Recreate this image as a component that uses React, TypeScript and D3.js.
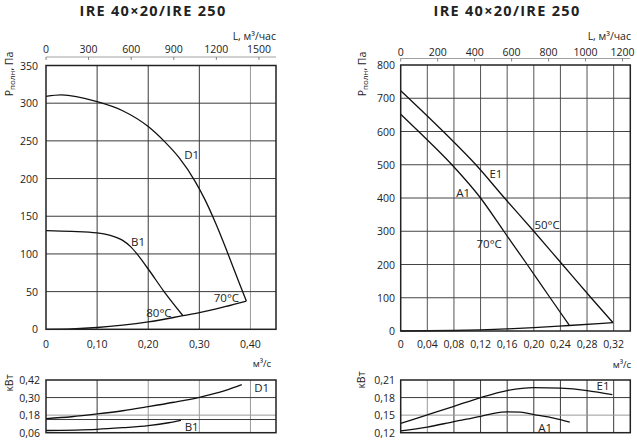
import * as React from "react";
import * as d3 from "d3";

// ---- left: pressure curves, Q in m3/s, P in Pa
const qD1 = [0, 0.03, 0.1, 0.15, 0.2, 0.232, 0.26, 0.292, 0.311, 0.333, 0.355, 0.38, 0.392];
const pD1 = [309, 311, 302, 290, 269, 249, 228, 196, 172, 139, 102, 58, 37.5];
const qB1 = [0, 0.05, 0.1, 0.124, 0.15, 0.165, 0.178, 0.2, 0.231, 0.268];
const pB1 = [131, 130, 128, 125, 118, 110, 100, 80, 50, 18];
const qSysL = [0, 0.05, 0.1, 0.15, 0.2, 0.268, 0.3, 0.35, 0.392];
const pSysL = [0, 0.6, 2.4, 5.5, 9.8, 18, 22, 30, 37.5];
// left: power, kW
const qD1w = [0, 0.05, 0.1, 0.15, 0.2, 0.25, 0.3, 0.35, 0.383];
const wD1 = [0.156, 0.169, 0.188, 0.21, 0.238, 0.268, 0.302, 0.347, 0.388];
const qB1w = [0, 0.1, 0.15, 0.2, 0.24, 0.264];
const wB1 = [0.075, 0.083, 0.094, 0.108, 0.128, 0.145];

// ---- right: pressure curves
const qE1 = [0, 0.064, 0.113, 0.156, 0.2, 0.243, 0.286, 0.319];
const pE1 = [723, 600, 500, 400, 300, 200, 100, 25];
const qA1 = [0, 0.027, 0.077, 0.12, 0.155, 0.19, 0.2245, 0.253];
const pA1 = [652, 600, 500, 400, 300, 200, 100, 18];
const qSysR = [0, 0.08, 0.12, 0.16, 0.2, 0.253, 0.319];
const pSysR = [0, 1.5, 3.5, 6.3, 10, 16.5, 25];
// right: power
const qE1w = [0, 0.04, 0.08, 0.12, 0.16, 0.2, 0.24, 0.28, 0.318];
const wE1 = [0.136, 0.1505, 0.165, 0.18, 0.192, 0.197, 0.196, 0.192, 0.185];
const qA1w = [0, 0.04, 0.08, 0.12, 0.14, 0.16, 0.18, 0.2, 0.23, 0.254];
const wA1 = [0.123, 0.1295, 0.139, 0.148, 0.153, 0.1555, 0.155, 0.151, 0.145, 0.138];

// ticks
const lTicksQ = [0, 0.1, 0.2, 0.3, 0.4];
const lTicksP = [0, 50, 100, 150, 200, 250, 300, 350];
const lTicksL = [0, 300, 600, 900, 1200, 1500];
const lTicksW = [0.06, 0.18, 0.3, 0.42];
const rTicksQ = [0, 0.04, 0.08, 0.12, 0.16, 0.2, 0.24, 0.28, 0.32];
const rTicksP = [0, 100, 200, 300, 400, 500, 600, 700, 800];
const rTicksL = [0, 200, 400, 600, 800, 1000, 1200];
const rTicksW = [0.12, 0.15, 0.18, 0.21];

const FONT = "'Open Sans', 'DejaVu Sans', sans-serif";
const DARK = "#3a3a3a";
const GREY = "#9a9a9a";

const comma = (v: number, d: number) => (v === 0 ? "0" : v.toFixed(d).replace(".", ","));

function curve(x: any, y: any, qs: number[], vs: number[]) {
  const pts: [number, number][] = qs.map((q, i) => [x(q), y(vs[i])]);
  return d3.line().curve(d3.curveMonotoneX)(pts) || "";
}

function Box({ x, y }: any) {
  const [x0, x1] = x.range();
  const [y0, y1] = y.range();
  return <rect x={x0} y={y1} width={x1 - x0} height={y0 - y1} fill="none" stroke="#222" strokeWidth={1.5} />;
}

function VGrid({ x, y, vals, color }: any) {
  const [y0, y1] = y.range();
  return <g>{vals.map((v: number, i: number) => (
    <line key={i} x1={x(v)} x2={x(v)} y1={y0} y2={y1} stroke={typeof color === "function" ? color(v) : color} strokeWidth={1} />
  ))}</g>;
}

function HGrid({ x, y, vals, color }: any) {
  const [x0, x1] = x.range();
  return <g>{vals.map((v: number, i: number) => (
    <line key={i} x1={x0} x2={x1} y1={y(v)} y2={y(v)} stroke={typeof color === "function" ? color(v) : color} strokeWidth={1} />
  ))}</g>;
}

function Txt({ x, y, children, anchor = "middle", size = 10.5, weight = 400, rotate = 0, spacing = 0 }: any) {
  return (
    <text x={x} y={y} textAnchor={anchor} fontSize={size} fontWeight={weight} fontFamily={FONT} fill="#222"
      letterSpacing={spacing} transform={rotate ? `rotate(${rotate},${x},${y})` : undefined}>
      {children}
    </text>
  );
}

function PTitle({ x, y }: any) {
  return (
    <text x={x} y={y} textAnchor="middle" fontSize={10.5} fontFamily={FONT} fill="#222" transform={`rotate(-90,${x},${y})`}>
      Р<tspan fontSize={8} dy={2}>полн</tspan><tspan dy={-2}>, Па</tspan>
    </text>
  );
}

function TopAxis({ x, y, vals, lineY }: any) {
  const [x0, x1] = x.range();
  return (
    <g>
      <line x1={x0} x2={x1} y1={lineY} y2={lineY} stroke="#888" strokeWidth={0.8} />
      {vals.map((v: number, i: number) => (
        <g key={i}>
          <line x1={x(v / 3600)} x2={x(v / 3600)} y1={lineY} y2={lineY + 3} stroke="#666" strokeWidth={0.8} />
          <Txt x={x(v / 3600)} y={y}>{v}</Txt>
        </g>
      ))}
    </g>
  );
}

export default function App() {
  // left scales
  const xL = d3.scaleLinear().domain([0, 0.45]).range([46, 276]);
  const yL = d3.scaleLinear().domain([0, 350]).range([329.3, 65.5]);
  const yLw = d3.scaleLinear().domain([0.06, 0.42]).range([432.7, 380]);
  // right scales
  const xR = d3.scaleLinear().domain([0, 0.345]).range([400.7, 630.3]);
  const yR = d3.scaleLinear().domain([0, 800]).range([331, 65]);
  const yRw = d3.scaleLinear().domain([0.12, 0.21]).range([432.7, 380]);

  const line = (d: string) => <path d={d} fill="none" stroke="#111" strokeWidth={1.3} />;

  return (
    <svg width={637} height={443} style={{ position: "absolute", left: 0, top: 0, background: "#fff" }}>
      {/* titles */}
      <Txt x={153} y={16} size={14.5} weight={700} spacing={1.3}>IRE 40×20/IRE 250</Txt>
      <Txt x={507} y={16} size={14.5} weight={700} spacing={1.3}>IRE 40×20/IRE 250</Txt>

      {/* ---------- left pressure ---------- */}
      <VGrid x={xL} y={yL} vals={[0.1, 0.2, 0.3, 0.4]} color={(v: number) => (v > 0.35 ? GREY : DARK)} />
      <HGrid x={xL} y={yL} vals={[50, 100, 150, 200, 250, 300]} color={DARK} />
      {line(curve(xL, yL, qD1, pD1))}
      {line(curve(xL, yL, qB1, pB1))}
      {line(curve(xL, yL, qSysL, pSysL))}
      <Box x={xL} y={yL} />
      {lTicksP.map((v) => <Txt key={v} x={38} y={yL(v) + 4} anchor="end">{v}</Txt>)}
      {lTicksQ.map((v) => <Txt key={v} x={xL(v)} y={348}>{comma(v, 2)}</Txt>)}
      <TopAxis x={xL} y={53} vals={lTicksL} lineY={57} />
      <Txt x={276} y={39.5} anchor="end">L, м³/час</Txt>
      <PTitle x={13} y={74} />
      <Txt x={xL(0.285)} y={yL(226)} size={11.5}>D1</Txt>
      <Txt x={xL(0.18)} y={yL(111)} size={11.5}>B1</Txt>
      <Txt x={xL(0.353)} y={yL(36)} size={11.5}>70°C</Txt>
      <Txt x={xL(0.221)} y={yL(16.7)} size={11.5}>80°C</Txt>

      {/* ---------- left power ---------- */}
      <VGrid x={xL} y={yLw} vals={[0.1, 0.2, 0.3, 0.4]} color={(v: number) => (v < 0.15 ? DARK : GREY)} />
      <HGrid x={xL} y={yLw} vals={[0.3, 0.18, 0.15]} color={(v: number) => (v === 0.18 ? GREY : DARK)} />
      {line(curve(xL, yLw, qD1w, wD1))}
      {line(curve(xL, yLw, qB1w, wB1))}
      <Box x={xL} y={yLw} />
      {lTicksW.map((v) => <Txt key={v} x={40} y={yLw(v) + 4} anchor="end">{comma(v, 2)}</Txt>)}
      <Txt x={262} y={367} size={9.5}>м³/с</Txt>
      <Txt x={13} y={383} rotate={-90} size={10.5}>кВт</Txt>
      <Txt x={xL(0.422)} y={yLw(0.338)} size={11.5}>D1</Txt>
      <Txt x={xL(0.285)} y={yLw(0.071)} size={11.5}>B1</Txt>

      {/* ---------- right pressure ---------- */}
      <VGrid x={xR} y={yR} vals={rTicksQ.slice(1)} color="#555" />
      <HGrid x={xR} y={yR} vals={[100, 200, 300, 400, 500, 600, 700]} color="#444" />
      {line(curve(xR, yR, qE1, pE1))}
      {line(curve(xR, yR, qA1, pA1))}
      {line(curve(xR, yR, qSysR, pSysR))}
      <Box x={xR} y={yR} />
      {rTicksP.map((v) => <Txt key={v} x={395} y={yR(v) + 4} anchor="end">{v}</Txt>)}
      {rTicksQ.map((v) => <Txt key={v} x={xR(v)} y={348}>{comma(v, 2)}</Txt>)}
      <TopAxis x={xR} y={56} vals={rTicksL} lineY={58.5} />
      <Txt x={631} y={40} anchor="end">L, м³/час</Txt>
      <PTitle x={366} y={74} />
      <Txt x={xR(0.143)} y={yR(460)} size={11.5}>E1</Txt>
      <Txt x={xR(0.094)} y={yR(404)} size={11.5}>A1</Txt>
      <Txt x={xR(0.22)} y={yR(307)} size={11.5}>50°C</Txt>
      <Txt x={xR(0.133)} y={yR(250)} size={11.5}>70°C</Txt>

      {/* ---------- right power ---------- */}
      <VGrid x={xR} y={yRw} vals={rTicksQ.slice(1)} color={(v: number) => (v < 0.05 ? GREY : DARK)} />
      <HGrid x={xR} y={yRw} vals={[0.18, 0.15]} color={(v: number) => (v === 0.15 ? GREY : DARK)} />
      {line(curve(xR, yRw, qE1w, wE1))}
      {line(curve(xR, yRw, qA1w, wA1))}
      <Box x={xR} y={yRw} />
      {rTicksW.map((v) => <Txt key={v} x={395} y={yRw(v) + 4} anchor="end">{comma(v, 2)}</Txt>)}
      <Txt x={622} y={368} size={9.5}>м³/с</Txt>
      <Txt x={365} y={380} rotate={-90} size={10.5}>кВт</Txt>
      <Txt x={xR(0.304)} y={yRw(0.193)} size={11.5}>E1</Txt>
      <Txt x={xR(0.217)} y={yRw(0.121)} size={11.5}>A1</Txt>
    </svg>
  );
}
